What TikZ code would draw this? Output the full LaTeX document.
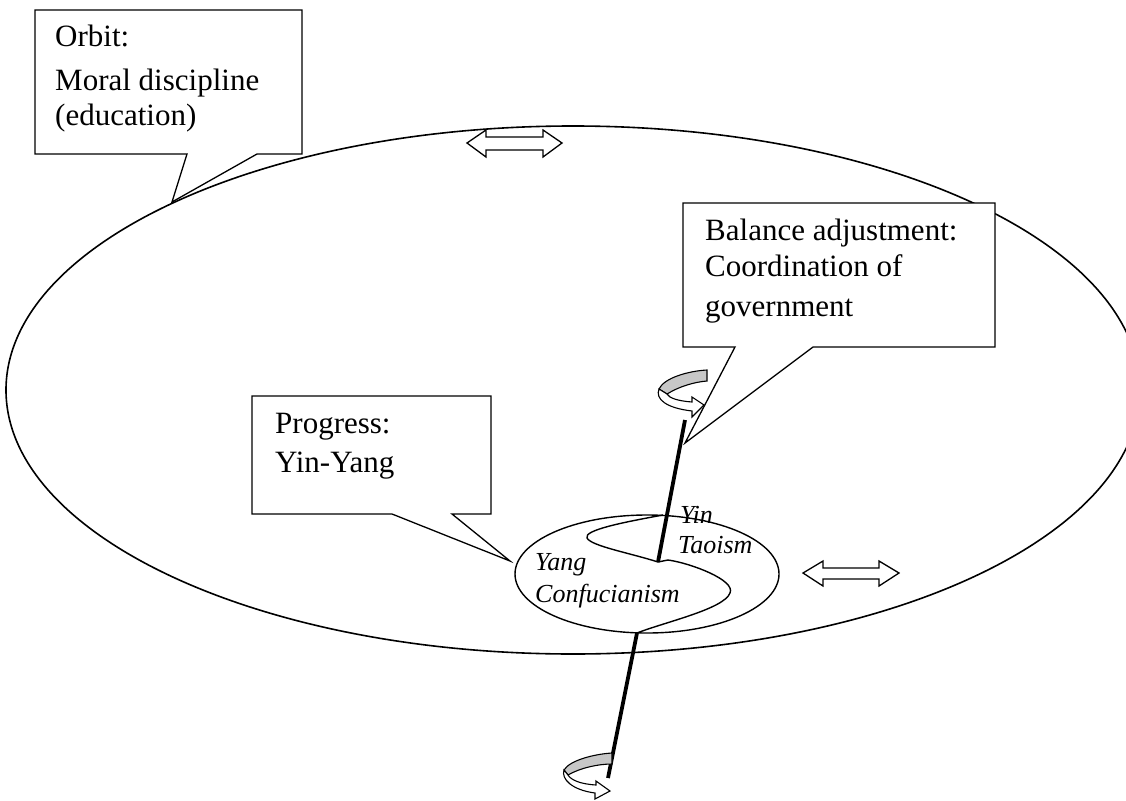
\documentclass[tikz,border=0pt]{standalone}
\usepackage{fontspec}
\setmainfont{Liberation Serif}
\begin{document}
\begin{tikzpicture}[x=1pt,y=-1pt,
  callout/.style={draw=black,line width=1.3pt,fill=white,line join=miter},
  boxtext/.style={anchor=base west,inner sep=0pt,font=\fontsize{31}{36}\selectfont},
  label/.style={anchor=base west,inner sep=0pt,font=\fontsize{26}{30}\selectfont\itshape},
  orbitline/.style={draw=black,line width=1.6pt},
  axisline/.style={draw=black,line width=3.8pt},
  dblarrow/.style={draw=black,line width=1.3pt,fill=white,line join=miter},
  ribbonback/.style={draw=black,line width=1.1pt,fill=black!22},
  ribbonfront/.style={draw=black,line width=1.1pt,fill=white,line join=miter}]
\useasboundingbox (0,0) rectangle (1126,800);
\clip (0,0) rectangle (1126,800);

% big orbit
\draw[orbitline] (573,390) ellipse [x radius=567, y radius=264];

% double arrows on the orbit
\draw[dblarrow] (467,143) -- (486,130) -- (486,137) -- (543,137) -- (543,130) -- (562,143)
  -- (543,157) -- (543,150) -- (486,150) -- (486,157) -- cycle;
\draw[dblarrow] (803,573) -- (823,561) -- (823,568) -- (879,568) -- (879,561) -- (899,573)
  -- (879,586) -- (879,579) -- (823,579) -- (823,586) -- cycle;

% callout 1: Orbit
\coordinate (t1) at (172,202);
\draw[callout] (35,10) -- (302,10) -- (302,154) -- (257,154) -- (t1) -- (187,154) -- (35,154) -- cycle;
\node[boxtext] (o1) at (55,47) {Orbit:};
\node[boxtext] (o2) at (55,90) {Moral discipline};
\node[boxtext] (o3) at (55,125) {(education)};

% callout 2: Balance adjustment
\coordinate (t2) at (685,443);
\draw[callout] (683,203) -- (995,203) -- (995,347) -- (813,347) -- (t2) -- (735,347) -- (683,347) -- cycle;
\node[boxtext] (b1) at (705,240) {Balance adjustment:};
\node[boxtext] (b2) at (705,276) {Coordination of};
\node[boxtext] (b3) at (705,316) {government};

% callout 3: Progress
\coordinate (t3) at (510,561);
\draw[callout] (252,396) -- (491,396) -- (491,514) -- (452,514) -- (t3) -- (392,514) -- (252,514) -- cycle;
\node[boxtext] (p1) at (275,433) {Progress:};
\node[boxtext] (p2) at (275,472) {Yin-Yang};

% small yin-yang ellipse
\draw[orbitline,line width=1.4pt,fill=white] (647,574) ellipse [x radius=132, y radius=59];
\coordinate (ctr) at (658,562);
\coordinate (sbot) at (637,633);
\draw[line width=1.4pt] (663,515) .. controls (625,522) and (583,530) .. (587,538)
  .. controls (591,546) and (630,553) .. (ctr)
  -- (668,560) .. controls (690,563) and (736,580) .. (730,593)
  .. controls (724,609) and (665,622) .. (sbot);

% axis
\coordinate (axtop) at (685,420);
\coordinate (axbot) at (608,778);
\draw[axisline] (ctr) -- (axtop);
\draw[axisline] (sbot) -- (axbot);

% labels
\node[label] (yin) at (680,523) {Yin};
\node[label] (tao) at (678,553) {Taoism};
\node[label] (yang) at (535,570) {Yang};
\node[label] (conf) at (535,602) {Confucianism};

% upper rotation arrow
\draw[ribbonback] (707,370) .. controls (688,371) and (664,378) .. (659,389)
  -- (667,394) .. controls (680,386) and (695,382) .. (707,381) -- cycle;
\draw[ribbonfront] (659,389) .. controls (655,399) and (666,408) .. (692,411)
  -- (692,417) -- (704,405) -- (692,397) -- (692,402)
  .. controls (678,401) and (669,398) .. (667,394) -- cycle;

% lower rotation arrow
\draw[ribbonback] (612,753) .. controls (595,754) and (570,760) .. (564,770)
  -- (568,775) .. controls (580,768) and (598,764) .. (612,764) -- cycle;
\draw[ribbonfront] (564,770) .. controls (561,779) and (572,790) .. (595,793)
  -- (595,799) -- (610,791) -- (596,781) -- (596,785)
  .. controls (580,784) and (571,780) .. (568,775) -- cycle;
\end{tikzpicture}
\end{document}
